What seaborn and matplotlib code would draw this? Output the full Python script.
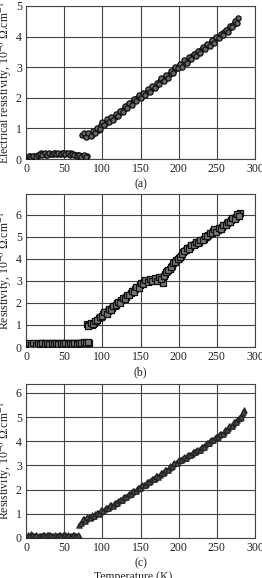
import matplotlib
matplotlib.use("Agg")
import matplotlib.pyplot as plt
import seaborn as sns
import pandas as pd

# ---------------- data ----------------
# Panel (a)
a_low_T = [2, 5, 8, 11, 14, 17, 20, 23, 26, 29, 32, 35, 38, 41, 44, 47, 50, 53, 56, 59, 62, 65, 68, 71, 74, 77, 80]
a_low_R = [0.07, 0.09, 0.08, 0.10, 0.09, 0.12, 0.18, 0.15, 0.13, 0.16, 0.17, 0.15, 0.18, 0.17, 0.16, 0.19, 0.17,
           0.18, 0.16, 0.18, 0.15, 0.14, 0.12, 0.10, 0.11, 0.09, 0.10]
a_low2_T = [3.5, 6.5, 9.5, 12.5, 15.5, 18.5, 21.5, 24.5, 27.5, 30.5, 33.5, 36.5, 39.5, 42.5, 45.5, 48.5, 51.5,
            54.5, 57.5, 60.5, 63.5, 66.5, 69.5, 72.5, 75.5, 78.5]
a_low2_R = [0.10, 0.06, 0.11, 0.07, 0.14, 0.16, 0.12, 0.18, 0.14, 0.19, 0.15, 0.20, 0.16, 0.19, 0.15, 0.20, 0.16,
            0.19, 0.14, 0.17, 0.13, 0.11, 0.13, 0.08, 0.12, 0.08]
a_high_T = [74, 77, 80, 83, 86, 89, 92, 95, 98, 101, 104, 107, 110, 113, 116, 119, 122, 125, 128, 131, 134, 137,
            140, 143, 146, 149, 152, 155, 158, 161, 164, 167, 170, 173, 176, 179, 182, 185, 188, 191, 194, 197,
            200, 203, 206, 209, 212, 215, 218, 221, 224, 227, 230, 233, 236, 239, 242, 245, 248, 251, 254, 257,
            260, 263, 266, 269, 272, 275, 278]
a_high_R = [0.80, 0.78, 0.75, 0.82, 0.80, 0.88, 0.92, 0.95, 1.10, 1.18, 1.15, 1.28, 1.30, 1.32, 1.36, 1.45, 1.50,
            1.58, 1.62, 1.70, 1.75, 1.80, 1.88, 1.92, 1.98, 2.05, 2.08, 2.12, 2.18, 2.25, 2.30, 2.35, 2.40, 2.48,
            2.55, 2.62, 2.65, 2.72, 2.78, 2.85, 2.92, 2.98, 3.05, 3.08, 3.12, 3.20, 3.25, 3.30, 3.35, 3.42, 3.45,
            3.52, 3.58, 3.62, 3.68, 3.72, 3.80, 3.85, 3.92, 3.98, 4.02, 4.08, 4.15, 4.20, 4.28, 4.35, 4.42, 4.52,
            4.62]
a_high2_T = [75.5, 78.5, 81.5, 84.5, 87.5, 90.5, 93.5, 96.5, 99.5, 102.5, 105.5, 108.5, 111.5, 114.5, 117.5,
             120.5, 123.5, 126.5, 129.5, 132.5, 135.5, 138.5, 141.5, 144.5, 147.5, 150.5, 153.5, 156.5, 159.5,
             162.5, 165.5, 168.5, 171.5, 174.5, 177.5, 180.5, 183.5, 186.5, 189.5, 192.5, 195.5, 198.5, 201.5,
             204.5, 207.5, 210.5, 213.5, 216.5, 219.5, 222.5, 225.5, 228.5, 231.5, 234.5, 237.5, 240.5, 243.5,
             246.5, 249.5, 252.5, 255.5, 258.5, 261.5, 264.5, 267.5, 270.5, 273.5, 276.5]
a_high2_R = [0.86, 0.72, 0.84, 0.76, 0.90, 0.84, 1.00, 0.98, 1.20, 1.10, 1.30, 1.22, 1.38, 1.28, 1.48, 1.42, 1.58,
             1.52, 1.72, 1.66, 1.84, 1.78, 1.96, 1.88, 2.08, 1.98, 2.16, 2.08, 2.28, 2.20, 2.38, 2.32, 2.50, 2.44,
             2.64, 2.56, 2.74, 2.66, 2.88, 2.82, 3.00, 2.96, 3.12, 3.02, 3.22, 3.14, 3.34, 3.26, 3.44, 3.36, 3.54,
             3.48, 3.66, 3.58, 3.76, 3.70, 3.88, 3.80, 3.98, 3.94, 4.10, 4.04, 4.22, 4.16, 4.36, 4.30, 4.50, 4.44]

# Panel (b)
b_low_T = [2, 5, 8, 11, 14, 17, 20, 23, 26, 29, 32, 35, 38, 41, 44, 47, 50, 53, 56, 59, 62, 65, 68, 71, 74, 77, 80, 83]
b_low_R = [0.12, 0.10, 0.14, 0.12, 0.15, 0.13, 0.18, 0.16, 0.15, 0.17, 0.14, 0.16, 0.15, 0.17, 0.14, 0.16, 0.15,
           0.17, 0.16, 0.15, 0.17, 0.16, 0.18, 0.17, 0.19, 0.18, 0.20, 0.19]
b_low2_T = [3.5, 6.5, 9.5, 12.5, 15.5, 18.5, 21.5, 24.5, 27.5, 30.5, 33.5, 36.5, 39.5, 42.5, 45.5, 48.5, 51.5,
            54.5, 57.5, 60.5, 63.5, 66.5, 69.5, 72.5, 75.5, 78.5, 81.5]
b_low2_R = [0.16, 0.09, 0.17, 0.11, 0.18, 0.12, 0.20, 0.14, 0.19, 0.13, 0.18, 0.14, 0.19, 0.13, 0.18, 0.14, 0.19,
            0.13, 0.18, 0.14, 0.19, 0.15, 0.20, 0.16, 0.21, 0.17, 0.21]
b_high_T = [80, 83, 86, 89, 92, 95, 98, 101, 104, 107, 110, 113, 116, 119, 122, 125, 128, 131, 134, 137, 140,
            143, 146, 149, 152, 155, 158, 161, 164, 167, 170, 173, 176, 179, 182, 185, 188, 191, 194, 197, 200,
            203, 206, 209, 212, 215, 218, 221, 224, 227, 230, 233, 236, 239, 242, 245, 248, 251, 254, 257, 260,
            263, 266, 269, 272, 275, 278, 281]
b_high_R = [1.05, 1.00, 0.98, 1.10, 1.20, 1.30, 1.38, 1.50, 1.58, 1.62, 1.70, 1.78, 1.88, 1.98, 2.05, 2.12, 2.20,
            2.28, 2.38, 2.45, 2.55, 2.62, 2.72, 2.80, 2.90, 2.95, 3.00, 3.02, 3.05, 3.05, 3.08, 3.10, 3.15, 2.90,
            3.30, 3.45, 3.55, 3.70, 3.85, 3.95, 4.05, 4.15, 4.30, 4.40, 4.50, 4.55, 4.62, 4.70, 4.75, 4.78, 4.85,
            4.92, 5.00, 5.10, 5.20, 5.28, 5.30, 5.32, 5.35, 5.45, 5.55, 5.62, 5.68, 5.75, 5.85, 5.92, 6.00, 6.10]
b_high2_T = [81.5, 84.5, 87.5, 90.5, 93.5, 96.5, 99.5, 102.5, 105.5, 108.5, 111.5, 114.5, 117.5, 120.5, 123.5,
             126.5, 129.5, 132.5, 135.5, 138.5, 141.5, 144.5, 147.5, 150.5, 153.5, 156.5, 159.5, 162.5, 165.5,
             168.5, 171.5, 174.5, 177.5, 180.5, 183.5, 186.5, 189.5, 192.5, 195.5, 198.5, 201.5, 204.5, 207.5,
             210.5, 213.5, 216.5, 219.5, 222.5, 225.5, 228.5, 231.5, 234.5, 237.5, 240.5, 243.5, 246.5, 249.5,
             252.5, 255.5, 258.5, 261.5, 264.5, 267.5, 270.5, 273.5, 276.5, 279.5]
b_high2_R = [0.95, 1.08, 1.05, 1.18, 1.22, 1.38, 1.42, 1.58, 1.52, 1.72, 1.68, 1.86, 1.90, 2.06, 2.02, 2.22, 2.18,
             2.36, 2.34, 2.56, 2.52, 2.74, 2.70, 2.92, 2.86, 3.04, 2.94, 3.10, 3.00, 3.12, 3.02, 3.18, 3.10, 3.22,
             3.40, 3.52, 3.62, 3.80, 3.88, 4.02, 4.08, 4.24, 4.34, 4.48, 4.44, 4.62, 4.64, 4.78, 4.72, 4.88, 4.86,
             5.02, 5.04, 5.20, 5.18, 5.36, 5.24, 5.40, 5.36, 5.54, 5.52, 5.70, 5.66, 5.84, 5.80, 6.02, 5.94]

# Panel (c)
c_low_T = [3, 6, 9, 12, 15, 18, 21, 24, 27, 30, 33, 36, 39, 42, 45, 48, 51, 54, 57, 60, 63, 66, 69]
c_low_R = [0.12, 0.15, 0.10, 0.09, 0.08, 0.10, 0.09, 0.11, 0.12, 0.13, 0.10, 0.09, 0.10, 0.08, 0.12, 0.11, 0.13,
           0.10, 0.09, 0.10, 0.11, 0.10, 0.09]
c_low2_T = [4.5, 7.5, 10.5, 13.5, 16.5, 19.5, 22.5, 25.5, 28.5, 31.5, 34.5, 37.5, 40.5, 43.5, 46.5, 49.5, 52.5,
            55.5, 58.5, 61.5, 64.5, 67.5]
c_low2_R = [0.09, 0.13, 0.07, 0.11, 0.10, 0.07, 0.12, 0.09, 0.14, 0.11, 0.08, 0.12, 0.07, 0.11, 0.09, 0.14, 0.08,
            0.11, 0.08, 0.12, 0.08, 0.11]
c_high_T = [70, 73, 76, 79, 82, 85, 88, 91, 94, 97, 100, 103, 106, 109, 112, 115, 118, 121, 124, 127, 130, 133,
            136, 139, 142, 145, 148, 151, 154, 157, 160, 163, 166, 169, 172, 175, 178, 181, 184, 187, 190, 193,
            196, 199, 202, 205, 208, 211, 214, 217, 220, 223, 226, 229, 232, 235, 238, 241, 244, 247, 250, 253,
            256, 259, 262, 265, 268, 271, 274, 277, 280, 283, 286]
c_high_R = [0.55, 0.70, 0.78, 0.80, 0.85, 0.88, 0.92, 0.98, 1.02, 1.08, 1.13, 1.18, 1.25, 1.30, 1.35, 1.40, 1.46,
            1.52, 1.58, 1.64, 1.70, 1.76, 1.83, 1.90, 1.96, 2.02, 2.08, 2.14, 2.20, 2.25, 2.30, 2.36, 2.42, 2.48,
            2.55, 2.62, 2.68, 2.75, 2.82, 2.88, 2.95, 3.05, 3.12, 3.18, 3.24, 3.28, 3.32, 3.38, 3.42, 3.48, 3.55,
            3.60, 3.66, 3.72, 3.78, 3.85, 3.92, 4.00, 4.05, 4.12, 4.18, 4.25, 4.32, 4.40, 4.46, 4.55, 4.62, 4.70,
            4.78, 4.88, 4.98, 5.12, 5.30]
c_high2_T = [71.5, 74.5, 77.5, 80.5, 83.5, 86.5, 89.5, 92.5, 95.5, 98.5, 101.5, 104.5, 107.5, 110.5, 113.5,
             116.5, 119.5, 122.5, 125.5, 128.5, 131.5, 134.5, 137.5, 140.5, 143.5, 146.5, 149.5, 152.5, 155.5,
             158.5, 161.5, 164.5, 167.5, 170.5, 173.5, 176.5, 179.5, 182.5, 185.5, 188.5, 191.5, 194.5, 197.5,
             200.5, 203.5, 206.5, 209.5, 212.5, 215.5, 218.5, 221.5, 224.5, 227.5, 230.5, 233.5, 236.5, 239.5,
             242.5, 245.5, 248.5, 251.5, 254.5, 257.5, 260.5, 263.5, 266.5, 269.5, 272.5, 275.5, 278.5, 281.5,
             284.5]
c_high2_R = [0.62, 0.80, 0.72, 0.88, 0.82, 0.94, 0.90, 1.04, 1.00, 1.14,
             1.12, 1.24, 1.24, 1.36, 1.34, 1.46, 1.46, 1.58, 1.58, 1.70,
             1.70, 1.82, 1.84, 1.96, 1.96, 2.08, 2.08, 2.20, 2.18, 2.30,
             2.30, 2.42, 2.42, 2.56, 2.54, 2.68, 2.68, 2.82, 2.82, 2.96,
             2.96, 3.12, 3.12, 3.24, 3.22, 3.34, 3.32, 3.44, 3.42, 3.56,
             3.54, 3.66, 3.66, 3.78, 3.78, 3.92, 3.92, 4.06, 4.04, 4.18,
             4.18, 4.32, 4.32, 4.46, 4.46, 4.62, 4.62, 4.78, 4.80, 4.96,
             5.02, 5.20]

x_ticks = [0, 50, 100, 150, 200, 250, 300]
panel_labels = ["(a)", "(b)", "(c)"]
y_labels = ["Electrical resistivity, 10$^{-6}$ Ω.cm$^{-1}$",
            "Resistivity, 10$^{-6}$ Ω.cm$^{-1}$",
            "Resistivity, 10$^{-6}$ Ω.cm$^{-1}$"]
x_title = "Temperature (K)"

# ---------------- style ----------------
sns.set_style("white")
plt.rcParams["font.family"] = ["Liberation Serif", "DejaVu Serif"]
plt.rcParams["mathtext.fontset"] = "stix"
FS = 8.5

fig = plt.figure(figsize=(2.62, 5.78), dpi=100)
W, H = 262, 578

def add_axes(top, bottom, left=26, right=255):
    return fig.add_axes([left / W, 1 - bottom / H, (right - left) / W, (bottom - top) / H])

panels = [
    dict(top=6, bottom=159, ylim=5, yt=[0, 1, 2, 3, 4, 5],
         T=a_low_T + a_low2_T + a_high_T + a_high2_T, R=a_low_R + a_low2_R + a_high_R + a_high2_R,
         marker="o", edge="#111111", face="#666666", s=14),
    dict(top=194, bottom=347, ylim=6.95, yt=[0, 1, 2, 3, 4, 5, 6],
         T=b_low_T + b_low2_T + b_high_T + b_high2_T, R=b_low_R + b_low2_R + b_high_R + b_high2_R,
         marker="s", edge="#111111", face="#777777", s=14),
    dict(top=384, bottom=538, ylim=6.37, yt=[0, 1, 2, 3, 4, 5, 6],
         T=c_low_T + c_low2_T + c_high_T + c_high2_T, R=c_low_R + c_low2_R + c_high_R + c_high2_R,
         marker="^", edge="#222222", face="#555555", s=14),
]

for i, p in enumerate(panels):
    ax = add_axes(p["top"], p["bottom"])
    df = pd.DataFrame({"T": p["T"], "R": p["R"]})
    sns.scatterplot(data=df, x="T", y="R", ax=ax, marker=p["marker"], s=p["s"],
                    facecolor=p["face"], edgecolor=p["edge"], linewidth=0.9, zorder=3)
    ax.set_xlim(0, 300)
    ax.set_ylim(0, p["ylim"])
    ax.set_xticks(x_ticks)
    ax.set_yticks(p["yt"])
    ax.grid(True, color="#444444", linewidth=0.8)
    ax.set_axisbelow(True)
    for s in ax.spines.values():
        s.set_color("#444444")
        s.set_linewidth(0.8)
    ax.tick_params(axis="both", length=0, labelsize=FS, pad=3, colors="#222222")
    ax.set_xlabel(panel_labels[i], fontsize=FS, labelpad=2, color="#222222")
    ax.set_ylabel(y_labels[i], fontsize=FS, labelpad=2, color="#222222")

fig.text(0.51, 1 - 571 / H, x_title, ha="center", va="top", fontsize=FS, color="#222222")

fig.savefig("out.png", dpi=100)
